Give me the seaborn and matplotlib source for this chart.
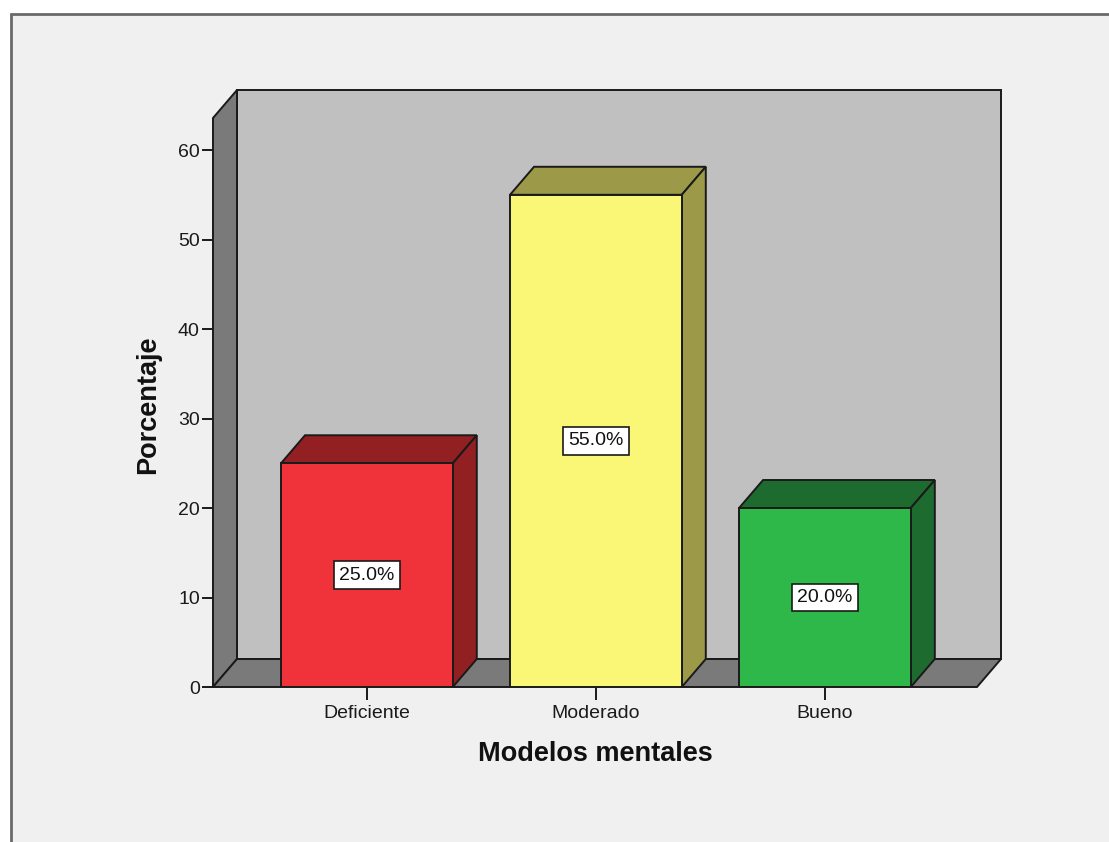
import matplotlib
matplotlib.use("Agg")
import matplotlib.pyplot as plt
import seaborn as sns
import pandas as pd
from matplotlib.patches import Polygon, Rectangle

# Data
categories = ["Deficiente", "Moderado", "Bueno"]
percentages = [25.0, 55.0, 20.0]
face_colors = ["#f0323a", "#fbf776", "#2eb84a"]
side_colors = ["#921f22", "#9c9a48", "#1e6b2f"]
y_ticks = [0, 10, 20, 30, 40, 50, 60]

sns.set_theme(style="white")
plt.rcParams["font.family"] = ["Liberation Sans", "DejaVu Sans"]

W, H = 1109, 842
fig = plt.figure(figsize=(W / 100, H / 100), dpi=100, facecolor="white")

# Chart panel with grey frame, kept behind the axes
fig.patches.append(Rectangle((10.5 / W, -0.05), 1.2, 1 - 14 / H + 0.05,
                             transform=fig.transFigure, facecolor="#f0f0f0",
                             edgecolor="#6a6a6a", lw=2, zorder=-1))

ax = fig.add_axes([213 / W, 1 - 687 / H, 764 / W, 569 / H])
ax.set_facecolor("none")

df = pd.DataFrame({"category": categories, "percent": percentages})
sns.barplot(data=df, x="category", y="percent", hue="category",
            palette=face_colors, width=0.75, saturation=1,
            edgecolor="#1a1a1a", linewidth=1.4, legend=False, ax=ax, zorder=5)

ax.set_xlim(-0.672, 2.664)
ax.set_ylim(0, 63.58)
ax.set_yticks(y_ticks)

# Depth of the 3D extrusion, converted from pixels to data units
x0, x1 = ax.get_xlim()
y0, y1 = ax.get_ylim()
px_x = ax.bbox.width / (x1 - x0)
px_y = ax.bbox.height / (y1 - y0)
dx = 24 / px_x
dy = 28 / px_y

edge = "#1a1a1a"
lw = 1.4
wall = "#7a7a7a"

# Back wall
ax.add_patch(Polygon([(x0 + dx, y0 + dy), (x1 + dx, y0 + dy),
                      (x1 + dx, y1 + dy), (x0 + dx, y1 + dy)],
                     closed=True, facecolor="#c0c0c0", edgecolor=edge,
                     lw=lw, clip_on=False, zorder=1))
# Left wall
ax.add_patch(Polygon([(x0, y0), (x0, y1), (x0 + dx, y1 + dy), (x0 + dx, y0 + dy)],
                     closed=True, facecolor=wall, edgecolor=edge,
                     lw=lw, clip_on=False, zorder=2))
# Floor
ax.add_patch(Polygon([(x0, y0), (x1, y0), (x1 + dx, y0 + dy), (x0 + dx, y0 + dy)],
                     closed=True, facecolor=wall, edgecolor=edge,
                     lw=lw, clip_on=False, zorder=2))

# Top and side faces of each bar
for container, side in zip(ax.containers, side_colors):
    for bar in container:
        bx, bw, bh = bar.get_x(), bar.get_width(), bar.get_height()
        ax.add_patch(Polygon([(bx, bh), (bx + bw, bh), (bx + bw + dx, bh + dy),
                              (bx + dx, bh + dy)], closed=True, facecolor=side,
                             edgecolor=edge, lw=lw, clip_on=False, zorder=4))
        ax.add_patch(Polygon([(bx + bw, 0), (bx + bw + dx, dy), (bx + bw + dx, bh + dy),
                              (bx + bw, bh)], closed=True, facecolor=side,
                             edgecolor=edge, lw=lw, clip_on=False, zorder=4))
    ax.bar_label(container, fmt="%.1f%%", label_type="center", fontsize=14,
                 color="#111111", zorder=7,
                 bbox=dict(boxstyle="square,pad=0.28", facecolor="white",
                           edgecolor="#1a1a1a", lw=1.2))

for s in ax.spines.values():
    s.set_visible(False)

ax.tick_params(axis="y", direction="out", length=8, width=1.4, color=edge,
               labelsize=14, pad=1.5, left=True, labelcolor="#1a1a1a")
ax.tick_params(axis="x", direction="out", length=9, width=1.4, color=edge,
               labelsize=14, pad=4, bottom=True, labelcolor="#1a1a1a")

ax.set_xlabel("Modelos mentales", fontsize=19.5, fontweight="bold", color="#111111")
ax.xaxis.label.set_va("center")
ax.xaxis.set_label_coords(0.5, -67 / 569)
ax.set_ylabel("Porcentaje", fontsize=19.5, fontweight="bold", color="#111111")
ax.yaxis.label.set_va("center")
ax.yaxis.set_label_coords(-64.5 / 764, 0.4965)

fig.savefig("out.png", dpi=100, facecolor="white")
